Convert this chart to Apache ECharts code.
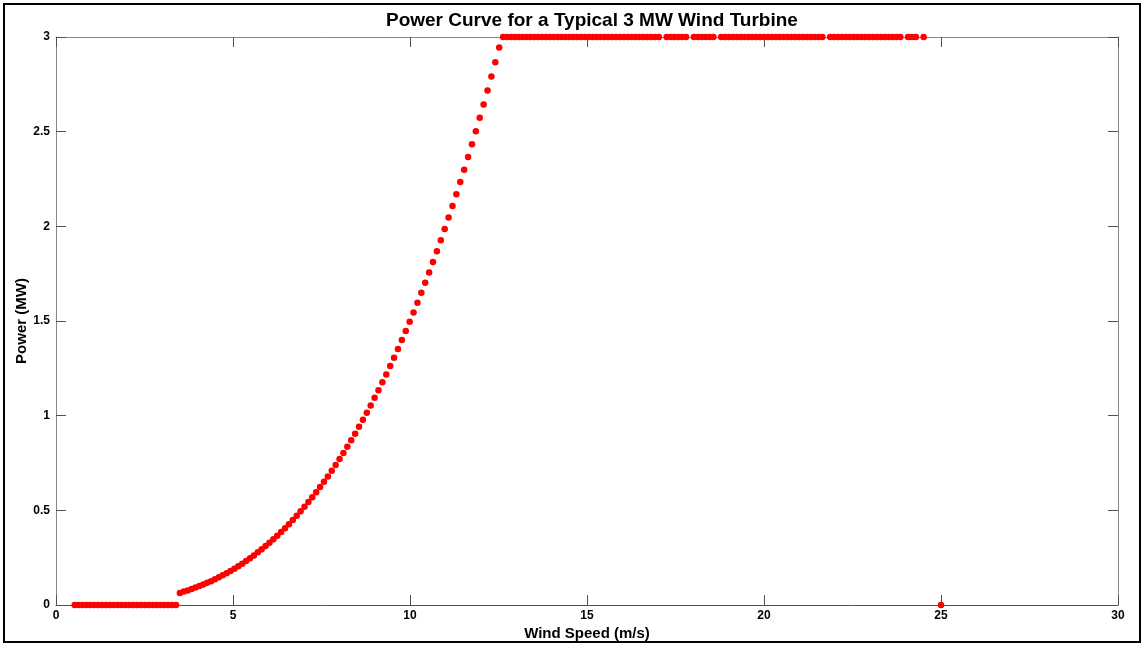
<!DOCTYPE html>
<html>
<head>
<meta charset="utf-8">
<script src="https://cdn.jsdelivr.net/npm/echarts@6/dist/echarts.min.js"></script>
<style>
html,body{margin:0;padding:0;background:#fff;}
#chart{width:1144px;height:646px;}
</style>
</head>
<body>
<div id="chart"></div>
<script>
// ---- Data ----
const titleText = "Power Curve for a Typical 3 MW Wind Turbine";
const xAxisName = "Wind Speed (m/s)";
const yAxisName = "Power (MW)";
const xTicks = [0, 5, 10, 15, 20, 25, 30];
const yTicks = [0, 0.5, 1, 1.5, 2, 2.5, 3];

// below cut-in: zero output
const lowSpeeds = [0.53,0.64,0.75,0.86,0.97,1.08,1.19,1.30,1.41,1.52,1.63,1.74,1.85,1.96,2.07,2.18,2.29,2.40,2.51,2.62,2.73,2.84,2.95,3.06,3.17,3.28,3.39];
const lowPowers = [0,0,0,0,0,0,0,0,0,0,0,0,0,0,0,0,0,0,0,0,0,0,0,0,0,0,0];

// ramp region
const rampSpeeds = [3.50,3.61,3.72,3.83,3.94,4.05,4.16,4.27,4.38,4.49,
  4.60,4.71,4.82,4.93,5.04,5.15,5.26,5.37,5.48,5.59,
  5.70,5.81,5.92,6.03,6.14,6.25,6.36,6.47,6.58,6.69,
  6.80,6.91,7.02,7.13,7.24,7.35,7.46,7.57,7.68,7.79,
  7.90,8.01,8.12,8.23,8.34,8.45,8.56,8.67,8.78,8.89,
  9.00,9.11,9.22,9.33,9.44,9.55,9.66,9.77,9.88,9.99,
  10.10,10.21,10.32,10.43,10.54,10.65,10.76,10.87,10.98,11.09,
  11.20,11.31,11.42,11.53,11.64,11.75,11.86,11.97,12.08,12.19,
  12.30,12.41,12.52];
const rampPowers = [0.064,0.071,0.077,0.084,0.092,0.100,0.108,0.117,0.126,0.136,
  0.146,0.157,0.168,0.180,0.192,0.205,0.218,0.232,0.247,0.262,
  0.278,0.294,0.311,0.329,0.347,0.366,0.386,0.406,0.427,0.449,
  0.472,0.495,0.519,0.544,0.569,0.596,0.623,0.651,0.679,0.709,
  0.740,0.771,0.803,0.836,0.870,0.905,0.941,0.978,1.015,1.054,
  1.094,1.134,1.176,1.218,1.262,1.306,1.352,1.399,1.447,1.496,
  1.545,1.596,1.649,1.702,1.756,1.812,1.869,1.927,1.986,2.046,
  2.107,2.170,2.234,2.299,2.366,2.433,2.502,2.573,2.644,2.717,
  2.791,2.867,2.944];

// rated region
const ratedSpeeds = [12.63,12.74,12.85,12.96,13.07,13.18,13.29,13.40,13.51,13.62,
  13.73,13.84,13.95,14.06,14.17,14.28,14.39,14.50,14.61,14.72,
  14.83,14.94,15.05,15.16,15.27,15.38,15.49,15.60,15.71,15.82,
  15.93,16.04,16.15,16.26,16.37,16.48,16.59,16.70,16.81,16.92,
  17.03,
  17.25,17.36,17.47,17.58,17.69,17.80,
  18.02,18.13,18.24,18.35,18.46,18.57,
  18.79,18.90,19.01,19.12,19.23,19.34,19.45,19.56,19.67,19.78,
  19.89,20.00,20.11,20.22,20.33,20.44,20.55,20.66,20.77,20.88,
  20.99,21.10,21.21,21.32,21.43,21.54,21.65,
  21.87,21.98,22.09,22.20,22.31,22.42,22.53,22.64,22.75,22.86,
  22.97,23.08,23.19,23.30,23.41,23.52,23.63,23.74,23.85,
  24.07,24.18,24.29,
  24.51];
const ratedPowers = [3,3,3,3,3,3,3,3,3,3,
  3,3,3,3,3,3,3,3,3,3,
  3,3,3,3,3,3,3,3,3,3,
  3,3,3,3,3,3,3,3,3,3,
  3,
  3,3,3,3,3,3,
  3,3,3,3,3,3,
  3,3,3,3,3,3,3,3,3,3,
  3,3,3,3,3,3,3,3,3,3,
  3,3,3,3,3,3,3,
  3,3,3,3,3,3,3,3,3,3,
  3,3,3,3,3,3,3,3,3,
  3,3,3,
  3];

// cut-out
const cutoutSpeeds = [25.0];
const cutoutPowers = [0];

// ---- Build chart ----
const speeds = [].concat(lowSpeeds, rampSpeeds, ratedSpeeds, cutoutSpeeds);
const powers = [].concat(lowPowers, rampPowers, ratedPowers, cutoutPowers);
const points = speeds.map((s, i) => [s, powers[i]]);

const FONT = "'Liberation Sans', Arial, sans-serif";
const AX = '#505050';

const chart = echarts.init(document.getElementById('chart'), null, {renderer: 'canvas'});
const xMin = xTicks[0], xMax = xTicks[xTicks.length - 1];
const yMin = yTicks[0], yMax = yTicks[yTicks.length - 1];
const xInt = xTicks[1] - xTicks[0], yInt = yTicks[1] - yTicks[0];

chart.setOption({
  animation: false,
  backgroundColor: '#ffffff',
  title: {
    text: titleText,
    left: 381,
    top: 6,
    textStyle: {fontFamily: FONT, fontWeight: 'bold', fontSize: 19, color: '#000'}
  },
  grid: {left: 56, right: 26, top: 37, bottom: 41, containLabel: false, outerBoundsMode: 'none'},
  xAxis: [{
    type: 'value', position: 'bottom', min: xMin, max: xMax, interval: xInt,
    name: xAxisName, nameLocation: 'middle', nameGap: 21, nameMoveOverlap: false,
    nameTextStyle: {fontFamily: FONT, fontWeight: 'bold', fontSize: 15, color: '#000'},
    axisLine: {show: true, lineStyle: {color: AX, width: 1}},
    axisTick: {show: true, inside: true, length: 10, lineStyle: {color: AX}},
    axisLabel: {fontFamily: FONT, fontWeight: 'bold', fontSize: 12, color: '#000', margin: 5},
    splitLine: {show: false}
  }, {
    type: 'value', position: 'top', min: xMin, max: xMax, interval: xInt,
    axisLine: {show: true, onZero: false, lineStyle: {color: '#888', width: 1}},
    axisTick: {show: true, inside: true, length: 10, lineStyle: {color: AX}},
    axisLabel: {show: false},
    splitLine: {show: false}
  }],
  yAxis: [{
    type: 'value', position: 'left', min: yMin, max: yMax, interval: yInt,
    name: yAxisName, nameLocation: 'middle', nameGap: 27, nameRotate: 90, nameMoveOverlap: false,
    nameTextStyle: {fontFamily: FONT, fontWeight: 'bold', fontSize: 15, color: '#000'},
    axisLine: {show: true, lineStyle: {color: '#888', width: 1}},
    axisTick: {show: true, inside: true, length: 10, lineStyle: {color: AX}},
    axisLabel: {fontFamily: FONT, fontWeight: 'bold', fontSize: 12, color: '#000', margin: 6},
    splitLine: {show: false}
  }, {
    type: 'value', position: 'right', min: yMin, max: yMax, interval: yInt,
    axisLine: {show: true, onZero: false, lineStyle: {color: '#888', width: 1}},
    axisTick: {show: true, inside: true, length: 10, lineStyle: {color: AX}},
    axisLabel: {show: false},
    splitLine: {show: false}
  }],
  graphic: [{
    type: 'rect',
    shape: {x: 4, y: 4, width: 1136, height: 638},
    style: {fill: 'none', stroke: '#000', lineWidth: 2},
    z: 100, silent: true
  }],
  series: [{
    type: 'scatter',
    xAxisIndex: 0, yAxisIndex: 0,
    symbol: 'circle',
    symbolSize: 6.5,
    itemStyle: {color: '#ff0000', opacity: 1},
    data: points,
    z: 10
  }]
});
</script>
</body>
</html>
